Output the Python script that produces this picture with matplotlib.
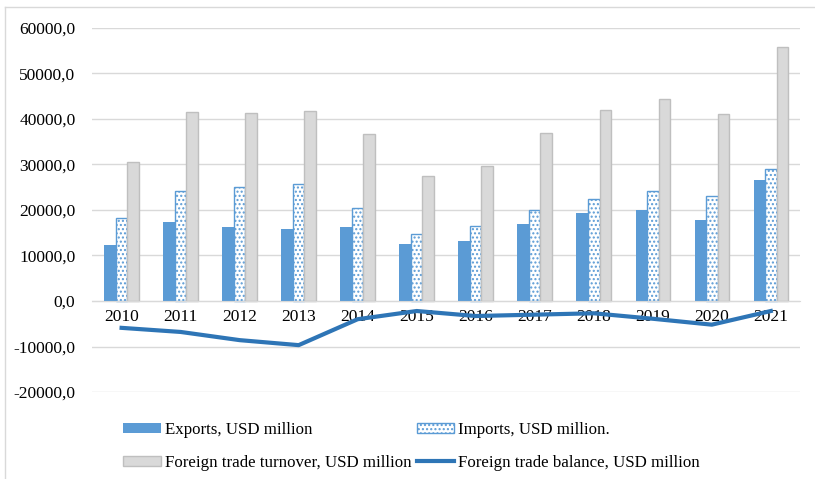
import numpy as np
import matplotlib
matplotlib.use("Agg")
import matplotlib.pyplot as plt
from matplotlib.lines import Line2D
from matplotlib.ticker import FuncFormatter

plt.rcParams['font.family'] = ['Liberation Serif', 'DejaVu Serif']
plt.rcParams['hatch.linewidth'] = 1.0

# Trade data, USD million
years = ['2010', '2011', '2012', '2013', '2014', '2015',
         '2016', '2017', '2018', '2019', '2020', '2021']
exports = [12300, 17400, 16300, 15800, 16300, 12500,
           13200, 17000, 19400, 20000, 17800, 26700]
imports = [18200, 24200, 25000, 25700, 20400, 14700,
           16500, 20000, 22350, 24250, 23150, 28900]
turnover = [30500, 41600, 41300, 41800, 36800, 27400,
            29700, 37000, 41900, 44400, 41000, 55800]
balance = [-5900, -6800, -8600, -9700, -4000, -2200,
           -3300, -3000, -2700, -3900, -5200, -2200]

fig = plt.figure(figsize=(8.15, 4.79), dpi=100)
ax = fig.add_axes([0.113, 0.1816, 0.869, 0.76])

x = np.arange(len(years))
w = 0.195
b1 = ax.bar(x - w, exports, w, color='#5b9bd5', label='Exports, USD million')
b2 = ax.bar(x, imports, w, facecolor='white', edgecolor='#5b9bd5',
            hatch='....', linewidth=1.0, label='Imports, USD million.')
b3 = ax.bar(x + w, turnover, w, color='#d9d9d9', edgecolor='#bfbfbf',
            linewidth=1.0, label='Foreign trade turnover, USD million')
ln, = ax.plot(x, balance, color='#2e75b6', lw=3, zorder=3,
              label='Foreign trade balance, USD million')

ax.set_xlim(-0.5, len(years) - 0.5)
ax.set_ylim(-20000, 60000)
ax.set_yticks(np.arange(-20000, 60001, 10000))
ax.yaxis.set_major_formatter(FuncFormatter(lambda v, p: f"{v:.1f}".replace('.', ',')))
ax.set_xticks(x)
ax.set_xticklabels(years)

ax.set_axisbelow(True)
ax.grid(axis='y', color='#d9d9d9', lw=1)
for s in ['top', 'right', 'left']:
    ax.spines[s].set_visible(False)
ax.spines['bottom'].set_position(('data', 0))
ax.spines['bottom'].set_color('#d9d9d9')
ax.tick_params(axis='both', length=0, labelsize=12.5, colors='black')
ax.tick_params(axis='y', pad=12)
ax.tick_params(axis='x', pad=6)

fig.legend(handles=[b1, b3, b2, ln], ncol=2, frameon=False,
           loc='upper left', bbox_to_anchor=(0.143, 0.1336),
           fontsize=12.2, handlelength=2.2, handleheight=0.53,
           handletextpad=0.25, columnspacing=0.3, labelspacing=1.0,
           borderaxespad=0)

# chart frame (top and left edges)
fig.add_artist(Line2D([0.006, 1.0], [0.985, 0.985], transform=fig.transFigure,
                      color='#d9d9d9', lw=1))
fig.add_artist(Line2D([0.006, 0.006], [0.0, 0.985], transform=fig.transFigure,
                      color='#d9d9d9', lw=1))

fig.savefig('out.png', dpi=100)
